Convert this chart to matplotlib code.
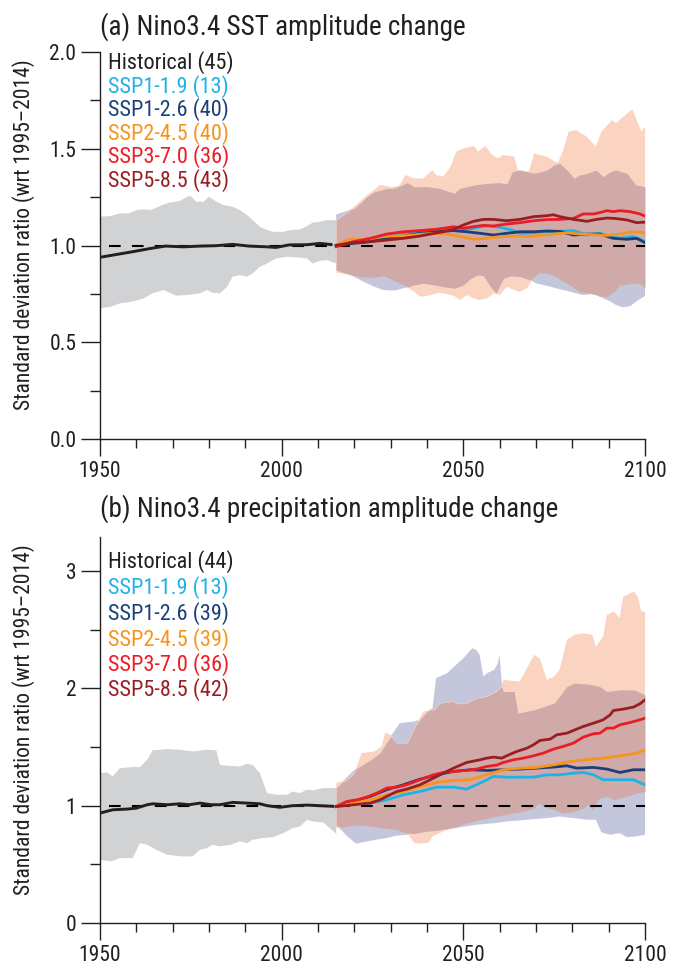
import numpy as np
import matplotlib
matplotlib.use("Agg")
import matplotlib.pyplot as plt
from matplotlib import font_manager as fm
from matplotlib.ticker import MultipleLocator, FixedLocator


def _has(name):
    try:
        fm.findfont(fm.FontProperties(family=name), fallback_to_default=False)
        return True
    except Exception:
        return False


# pick the narrowest installed sans family; size factor compensates for width
_FONT_CHOICES = [('Liberation Sans Narrow', 1.0), ('Roboto Condensed', 1.0), ('Arial Narrow', 1.0),
                 ('DejaVu Sans Condensed', 0.88), ('Liberation Sans', 0.9)]
FONT, FS = 'Liberation Sans', 0.9
for _n, _f in _FONT_CHOICES:
    if _has(_n):
        FONT, FS = _n, _f
        break
plt.rcParams['font.family'] = [FONT, 'DejaVu Sans']

# ---------------- Panel (a) data : Nino3.4 SST ----------------
a_hist_years = [1950, 1959, 1964, 1968, 1973, 1977.5, 1982, 1986.5, 1991, 1996, 1998.5, 2002, 2007, 2010.5, 2014]
a_hist = [0.939, 0.968, 0.985, 0.997, 0.993, 0.997, 0.999, 1.006, 0.997, 0.993, 0.990, 1.003, 1.004, 1.011, 1.004]

a_hist_hi_years = [1950, 1953, 1955.5, 1958, 1960, 1962, 1964, 1966.5, 1969, 1972, 1974, 1975, 1976.5, 1978.5, 1980, 1982,
                   1984, 1986.5, 1988.5, 1990.5, 1992, 1994, 1996, 1997.5, 2000.5, 2002.5, 2005, 2007, 2008.5, 2010.5, 2012.5, 2015]
a_hist_hi = [1.149, 1.152, 1.166, 1.166, 1.183, 1.187, 1.183, 1.204, 1.221, 1.230, 1.252, 1.255, 1.226, 1.226, 1.252, 1.226,
             1.209, 1.200, 1.183, 1.157, 1.131, 1.097, 1.080, 1.071, 1.071, 1.080, 1.083, 1.100, 1.118, 1.123, 1.131, 1.130]
a_hist_lo_years = [1950, 1953, 1955.5, 1959, 1962, 1964.5, 1967.5, 1969.5, 1971, 1974, 1977.5, 1979.5, 1981, 1983, 1985,
                   1986.5, 1988.5, 1990.5, 1992, 1994, 1996, 1998.5, 2001.5, 2004, 2007, 2008.5, 2010.5, 2012.5, 2015]
a_hist_lo = [0.675, 0.684, 0.701, 0.710, 0.727, 0.753, 0.770, 0.753, 0.741, 0.744, 0.753, 0.770, 0.756, 0.753, 0.787,
             0.839, 0.847, 0.839, 0.856, 0.890, 0.907, 0.933, 0.942, 0.939, 0.933, 0.907, 0.921, 0.924, 0.907]

a_peach_hi_years = [2015, 2017, 2020, 2021.5, 2023.5, 2025.5, 2027, 2029, 2031, 2032.5, 2034, 2036.5, 2039, 2041.5, 2042.5,
                    2044.5, 2046.5, 2048, 2050, 2053, 2054, 2056, 2058, 2059.5, 2061, 2064, 2065, 2068, 2069.5, 2073,
                    2076, 2077.5, 2079, 2081, 2084, 2086.5, 2088, 2091, 2092, 2093.5, 2096.5, 2099, 2100]
a_peach_hi = [1.132, 1.158, 1.201, 1.227, 1.261, 1.287, 1.313, 1.307, 1.295, 1.313, 1.364, 1.347, 1.347, 1.390, 1.364,
              1.356, 1.407, 1.485, 1.502, 1.514, 1.485, 1.514, 1.468, 1.450, 1.468, 1.459, 1.390, 1.382, 1.476, 1.459,
              1.425, 1.494, 1.588, 1.597, 1.562, 1.511, 1.588, 1.649, 1.631, 1.657, 1.704, 1.588, 1.614]
a_peach_lo_years = [2015, 2019, 2022.5, 2025.5, 2028, 2031, 2033.5, 2036.5, 2038, 2040, 2042, 2043.5, 2045.5, 2047.5, 2049,
                    2051, 2053, 2054.5, 2056.5, 2058.5, 2060, 2062, 2064, 2065.5, 2067.5, 2069.5, 2071, 2073, 2075, 2076.5,
                    2078.5, 2080.5, 2082, 2084, 2086, 2087.5, 2089.5, 2091.5, 2093, 2095, 2097, 2098.5, 2100]
a_peach_lo = [0.860, 0.848, 0.836, 0.836, 0.843, 0.818, 0.796, 0.761, 0.736, 0.739, 0.749, 0.756, 0.749, 0.739, 0.718,
              0.744, 0.727, 0.718, 0.727, 0.753, 0.744, 0.787, 0.770, 0.761, 0.779, 0.839, 0.860, 0.856, 0.843, 0.825,
              0.805, 0.779, 0.761, 0.756, 0.749, 0.739, 0.736, 0.761, 0.796, 0.801, 0.805, 0.805, 0.779]
a_blue_hi_years = [2015, 2020, 2023.5, 2025.5, 2029, 2032.5, 2034.5, 2036.5, 2040, 2043.5, 2047.5, 2049, 2053, 2056.5, 2060,
                   2062, 2063.5, 2065.5, 2069.5, 2073, 2075, 2076.5, 2078.5, 2080.5, 2082, 2084, 2086.5, 2088.5, 2090.5,
                   2092, 2095, 2097.5, 2100]
a_blue_hi = [1.160, 1.192, 1.252, 1.278, 1.295, 1.307, 1.325, 1.304, 1.304, 1.295, 1.270, 1.295, 1.313, 1.321, 1.325,
             1.318, 1.382, 1.390, 1.373, 1.390, 1.416, 1.425, 1.390, 1.347, 1.364, 1.373, 1.390, 1.356, 1.382,
             1.390, 1.373, 1.313, 1.304]
a_blue_lo_years = [2015, 2019, 2022.5, 2025.5, 2028, 2031, 2033.5, 2036.5, 2039, 2042, 2044.5, 2047.5, 2050, 2052, 2054,
                   2055.5, 2057.5, 2059, 2061, 2063, 2065.5, 2068.5, 2070, 2072, 2074, 2075.5, 2077.5, 2079.5, 2081, 2083,
                   2085, 2086.5, 2088.5, 2090.5, 2092, 2094, 2096, 2097.5, 2100]
a_blue_lo = [0.873, 0.848, 0.813, 0.787, 0.770, 0.767, 0.779, 0.796, 0.805, 0.796, 0.787, 0.779, 0.796, 0.830, 0.848,
             0.843, 0.787, 0.753, 0.830, 0.843, 0.839, 0.822, 0.805, 0.796, 0.787, 0.779, 0.770, 0.761, 0.753, 0.744,
             0.749, 0.744, 0.727, 0.710, 0.693, 0.680, 0.687, 0.710, 0.739]

a_ssp119_years = [2015, 2019.8, 2024.4, 2028.9, 2033.5, 2038.1, 2041.8, 2045.4, 2049.1, 2052.8, 2056.4, 2060.1, 2063.8,
                  2065.6, 2069.3, 2073, 2076.6, 2080.3, 2082.1, 2084, 2087.6, 2090.4, 2093.1, 2096.8, 2098.6, 2100]
a_ssp119 = [1.001, 1.020, 1.025, 1.046, 1.059, 1.071, 1.071, 1.080, 1.077, 1.089, 1.102, 1.094, 1.077,
            1.063, 1.066, 1.073, 1.073, 1.077, 1.066, 1.054, 1.063, 1.046, 1.037, 1.046, 1.032, 1.020]
a_ssp126_years = [2015, 2019.8, 2024.4, 2028.9, 2033.5, 2038.1, 2042.7, 2047.3, 2050.9, 2054.6, 2058.3, 2061.9, 2065.6,
                  2069.3, 2073, 2076.6, 2080.3, 2084, 2087.6, 2091.3, 2095, 2097.7, 2100]
a_ssp126 = [1.001, 1.011, 1.020, 1.037, 1.049, 1.063, 1.071, 1.077, 1.071, 1.063, 1.054, 1.063, 1.071,
            1.071, 1.075, 1.073, 1.054, 1.059, 1.059, 1.037, 1.032, 1.037, 1.015]
a_ssp245_years = [2015, 2018.9, 2022.5, 2026.2, 2029.9, 2034.4, 2038.1, 2041.8, 2045.4, 2049.1, 2052.8, 2056.4, 2060.1,
                  2063.8, 2067.5, 2071.1, 2074.8, 2078.5, 2082.1, 2085.8, 2089.5, 2093.1, 2096.8, 2100]
a_ssp245 = [1.001, 1.034, 1.028, 1.042, 1.049, 1.051, 1.058, 1.063, 1.059, 1.046, 1.032, 1.037, 1.046,
            1.049, 1.046, 1.052, 1.059, 1.066, 1.059, 1.056, 1.052, 1.059, 1.071, 1.066]
a_ssp370_years = [2015, 2019.8, 2024.4, 2028.9, 2033.5, 2038.1, 2042.7, 2047.3, 2050, 2052.8, 2055.5, 2058.3, 2061.9,
                  2065.6, 2069.3, 2073, 2076.6, 2080.3, 2083, 2085.8, 2087.6, 2089.5, 2091.3, 2093.1, 2095.9, 2098.6, 2100]
a_ssp370 = [0.994, 1.020, 1.037, 1.059, 1.071, 1.077, 1.084, 1.097, 1.089, 1.097, 1.104, 1.101, 1.111,
            1.118, 1.128, 1.134, 1.135, 1.140, 1.163, 1.163, 1.170, 1.180, 1.175, 1.180, 1.175, 1.163, 1.152]
a_ssp585_years = [2015, 2019.8, 2024.4, 2028.9, 2033.5, 2038.1, 2040.9, 2044.5, 2047.3, 2050, 2052.8, 2055.5, 2058.3,
                  2061.9, 2065.6, 2069.3, 2073, 2074.8, 2076.6, 2080.3, 2084, 2086.7, 2089.5, 2092.2, 2095, 2097.7, 2100]
a_ssp585 = [1.001, 1.015, 1.020, 1.028, 1.037, 1.049, 1.059, 1.071, 1.084, 1.106, 1.125, 1.135, 1.135,
            1.128, 1.135, 1.149, 1.154, 1.159, 1.149, 1.135, 1.125, 1.135, 1.142, 1.139, 1.132, 1.118, 1.121]

# ---------------- Panel (b) data : Nino3.4 precipitation ----------------
b_hist_years = [1950, 1953.5, 1957.5, 1960, 1963, 1964.5, 1968.5, 1972, 1974.5, 1977.5, 1980.5, 1983, 1986.5, 1990.5,
                1994, 1996, 1999.5, 2003, 2007, 2010.5, 2014.5]
b_hist = [0.937, 0.965, 0.971, 0.979, 1.008, 1.016, 1.008, 1.016, 1.008, 1.022, 1.008, 1.008, 1.028, 1.022,
          1.016, 1.000, 0.986, 1.000, 1.005, 1.000, 0.994]

b_hist_hi_years = [1950, 1952, 1953.5, 1955.5, 1959, 1961, 1963, 1964.5, 1966.5, 1968.5, 1972, 1975.5, 1979.5, 1982,
                   1983, 1985, 1988.5, 1990.5, 1992, 1994, 1996, 1998.5, 2001.5, 2003, 2005, 2007, 2008.5, 2011.5, 2015]
b_hist_hi = [1.278, 1.283, 1.249, 1.320, 1.329, 1.329, 1.392, 1.472, 1.476, 1.482, 1.476, 1.462, 1.476, 1.472,
             1.348, 1.340, 1.334, 1.357, 1.348, 1.278, 1.107, 1.093, 1.093, 1.121, 1.107, 1.136, 1.130, 1.150, 1.150]
b_hist_lo_years = [1950, 1953, 1955.5, 1959, 1961, 1963, 1965.5, 1968.5, 1972, 1975.5, 1977.5, 1979.5, 1981, 1983,
                   1986, 1988.5, 1990.5, 1992, 1995, 1997.5, 2000.5, 2003, 2005, 2007, 2008.5, 2011.5, 2015]
b_hist_lo = [0.539, 0.525, 0.553, 0.553, 0.681, 0.667, 0.624, 0.582, 0.568, 0.568, 0.624, 0.639, 0.667, 0.653,
             0.667, 0.696, 0.681, 0.710, 0.724, 0.732, 0.766, 0.809, 0.823, 0.880, 0.866, 0.857, 0.760]

b_peach_hi_years = [2015, 2018, 2020, 2022, 2025.5, 2027.5, 2028.5, 2030, 2031.5, 2034.5, 2037, 2039, 2042, 2043.5, 2047,
                    2048, 2051, 2053.5, 2056.5, 2059, 2060.5, 2061, 2065.5, 2067.5, 2069.5, 2071, 2073, 2075, 2076.5,
                    2078.5, 2080.5, 2083, 2085.5, 2086.5, 2088.5, 2089.5, 2091.5, 2093, 2094, 2097, 2098, 2099, 2100]
b_peach_hi = [1.192, 1.221, 1.278, 1.448, 1.462, 1.505, 1.624, 1.604, 1.533, 1.533, 1.689, 1.803, 1.817, 1.874, 1.888,
              1.868, 1.874, 1.916, 1.931, 1.973, 2.016, 2.072, 2.058, 2.172, 2.285, 2.257, 2.072, 2.101, 2.158,
              2.413, 2.456, 2.470, 2.456, 2.356, 2.442, 2.626, 2.655, 2.598, 2.782, 2.825, 2.782, 2.655, 2.655]
b_peach_lo_years = [2015, 2018, 2020.5, 2023.5, 2026, 2029, 2031.5, 2034.5, 2036.5, 2038, 2040.5, 2041.5, 2044.5, 2047.5,
                    2050, 2052.5, 2055.5, 2058, 2061, 2063.5, 2066.5, 2069.5, 2070.5, 2072, 2075, 2077.5, 2080.5, 2083,
                    2084, 2085.5, 2087.5, 2089.5, 2091.5, 2093, 2095, 2097, 2098.5, 2100]
b_peach_lo = [0.809, 0.823, 0.837, 0.829, 0.818, 0.806, 0.795, 0.766, 0.681, 0.676, 0.687, 0.738, 0.781, 0.818,
              0.846, 0.866, 0.886, 0.903, 0.923, 0.937, 0.951, 0.979, 1.022, 0.994, 0.965, 0.937, 0.951, 0.979,
              1.008, 0.965, 1.065, 1.079, 1.050, 1.065, 1.079, 1.101, 1.113, 1.121]
b_blue_hi_years = [2015, 2020, 2024.5, 2027, 2030, 2032.5, 2036.5, 2038, 2040, 2041.5, 2042.5, 2045.5, 2048, 2050, 2052.5,
                   2053.5, 2054.5, 2055.5, 2056.5, 2058.5, 2059.5, 2060, 2060.5, 2061, 2064, 2065, 2069.5, 2075, 2078.5,
                   2080.5, 2084, 2087.5, 2089.5, 2093, 2097, 2100]
b_blue_hi = [1.150, 1.306, 1.391, 1.448, 1.590, 1.703, 1.718, 1.732, 1.803, 1.831, 2.087, 2.129, 2.200, 2.257, 2.342,
             2.328, 2.285, 2.101, 2.129, 2.158, 2.214, 2.285, 2.072, 1.973, 1.973, 1.789, 1.817, 1.874, 2.016,
             2.044, 2.038, 2.016, 1.973, 1.987, 1.987, 1.945]
b_blue_lo_years = [2015, 2016.5, 2018, 2020.5, 2023.5, 2026, 2029, 2031.5, 2034.5, 2037, 2039.5, 2042.5, 2045, 2048,
                   2050.5, 2053.5, 2056.5, 2059, 2062, 2065.5, 2069.5, 2073, 2076.5, 2080.5, 2084, 2086.5, 2088, 2090.5,
                   2093, 2095, 2097.5, 2100]
b_blue_lo = [0.830, 0.790, 0.740, 0.676, 0.695, 0.710, 0.724, 0.744, 0.752, 0.766, 0.781, 0.789, 0.801, 0.809,
             0.823, 0.837, 0.846, 0.852, 0.866, 0.874, 0.886, 0.894, 0.908, 0.894, 0.880, 0.880, 0.772, 0.752,
             0.766, 0.732, 0.738, 0.752]

b_ssp119_years = [2015, 2019.8, 2024.4, 2028.9, 2033.5, 2038.1, 2042.7, 2047.3, 2050.9, 2054.6, 2058.3, 2061.9, 2065.6,
                  2069.3, 2073, 2076.6, 2080.3, 2083, 2085.8, 2088.5, 2093.1, 2096.8, 2100]
b_ssp119 = [0.993, 1.022, 1.022, 1.050, 1.093, 1.121, 1.158, 1.158, 1.141, 1.192, 1.249, 1.243, 1.243,
            1.243, 1.263, 1.263, 1.277, 1.283, 1.263, 1.221, 1.221, 1.221, 1.178]
b_ssp126_years = [2015, 2019.8, 2024.4, 2028.9, 2033.5, 2038.1, 2042.7, 2047.3, 2051.9, 2056.4, 2061, 2065.6, 2070.2,
                  2074.8, 2078.5, 2081.2, 2085.8, 2089.5, 2093.1, 2096.8, 2100]
b_ssp126 = [0.993, 1.036, 1.079, 1.136, 1.178, 1.226, 1.263, 1.292, 1.306, 1.300, 1.306, 1.312, 1.320,
            1.329, 1.340, 1.320, 1.326, 1.312, 1.283, 1.306, 1.306]
b_ssp245_years = [2015, 2019.8, 2024.4, 2028.9, 2033.5, 2038.1, 2042.7, 2047.3, 2051.9, 2056.4, 2061, 2065.6, 2070.2,
                  2074.8, 2079.4, 2084, 2088.5, 2093.1, 2097.7, 2100]
b_ssp245 = [0.993, 1.022, 1.050, 1.093, 1.121, 1.164, 1.198, 1.215, 1.221, 1.263, 1.306, 1.320, 1.326,
            1.348, 1.377, 1.391, 1.405, 1.425, 1.448, 1.476]
b_ssp370_years = [2015, 2017.9, 2020.7, 2023.4, 2026.2, 2028.9, 2031.7, 2034.4, 2038.1, 2041.8, 2044.5, 2047.3, 2050.9,
                  2053.7, 2056.4, 2059.2, 2061, 2063.8, 2066.5, 2069.3, 2072, 2074.8, 2077.5, 2080.3, 2083, 2085.8,
                  2087.6, 2089.5, 2091.3, 2093.1, 2095.9, 2098.6, 2100]
b_ssp370 = [0.993, 1.036, 1.050, 1.073, 1.107, 1.150, 1.158, 1.178, 1.221, 1.263, 1.283, 1.292, 1.300,
            1.312, 1.334, 1.346, 1.368, 1.391, 1.405, 1.425, 1.448, 1.482, 1.505, 1.533, 1.584, 1.613,
            1.618, 1.661, 1.661, 1.689, 1.709, 1.732, 1.746]
b_ssp585_years = [2015, 2019.8, 2024.4, 2027.1, 2028.9, 2031.7, 2034.4, 2038.1, 2040.9, 2043.6, 2047.3, 2050.9, 2054.6,
                  2056.4, 2058.3, 2060.6, 2061.9, 2064.7, 2067.5, 2069.3, 2071.1, 2073.9, 2075.7, 2078.5, 2080.3, 2083,
                  2085.8, 2088.5, 2090.4, 2091.3, 2094, 2096.8, 2098.6, 2100]
b_ssp585 = [0.993, 1.008, 1.022, 1.050, 1.079, 1.121, 1.141, 1.178, 1.221, 1.263, 1.320, 1.368, 1.391,
            1.405, 1.414, 1.405, 1.425, 1.462, 1.490, 1.519, 1.556, 1.567, 1.604, 1.618, 1.641, 1.675,
            1.703, 1.732, 1.774, 1.811, 1.823, 1.840, 1.868, 1.902]

# ---------------- labels ----------------
scenario_names = ['SSP1-1.9', 'SSP1-2.6', 'SSP2-4.5', 'SSP3-7.0', 'SSP5-8.5']
a_counts = [45, 13, 40, 40, 36, 43]
b_counts = [44, 13, 39, 39, 36, 42]
titles = ['(a) Nino3.4 SST amplitude change', '(b) Nino3.4 precipitation amplitude change']
ylabel = 'Standard deviation ratio (wrt 1995\u20132014)'
xtick_labels = ['1950', '2000', '2050', '2100']

# ---------------- style ----------------
C_HIST = '#231f20'
C_SSP = ['#1eb3e6', '#1b3f78', '#f7941d', '#ec1c24', '#9a1d22']
C_GRAY = '#d1d2d4'
C_PEACH = '#fad4c1'
C_BLUE = '#c4c7db'
C_MAUVE = '#cfaaa9'

W, H = 674, 968
fig = plt.figure(figsize=(W / 100, H / 100), dpi=100)


def px_axes(left, top, right, bottom):
    return fig.add_axes([left / W, 1 - bottom / H, (right - left) / W, (bottom - top) / H])


def band(ax, yh, vh, yl, vl, color, z):
    xs = np.concatenate([np.asarray(yh, float), np.asarray(yl, float)[::-1]])
    ys = np.concatenate([np.asarray(vh, float), np.asarray(vl, float)[::-1]])
    ax.fill(xs, ys, color=color, lw=0, zorder=z)


def overlap(ax, bands, color, z):
    grid = np.unique(np.concatenate([np.asarray(b[0], float) for b in bands]))
    his = [np.interp(grid, b[0], b[1]) for b in bands if b[2] == 'hi']
    los = [np.interp(grid, b[0], b[1]) for b in bands if b[2] == 'lo']
    hi = np.minimum(*his)
    lo = np.maximum(*los)
    ax.fill_between(grid, lo, hi, where=hi > lo, interpolate=True, color=color, lw=0, zorder=z)


def draw_panel(ax, d, ylim, yticks, yticklabels, yminor, title, counts, title_y, leg_y):
    band(ax, *d['hist_band'], C_GRAY, 1)
    band(ax, *d['blue'], C_BLUE, 1.1)
    band(ax, *d['peach'], C_PEACH, 1.2)
    by, bhi, bly, blo = d['blue']
    py_, phi, ply, plo = d['peach']
    overlap(ax, [(by, bhi, 'hi'), (bly, blo, 'lo'), (py_, phi, 'hi'), (ply, plo, 'lo')], C_MAUVE, 1.3)

    ax.plot([1952.6, 2100], [1.0, 1.0], color='black', lw=1.5, dashes=(5.6, 5.4), zorder=2)
    ax.plot(d['hist'][0], d['hist'][1], color=C_HIST, lw=2.1, zorder=3, solid_capstyle='butt')
    for (yy, vv), c in zip(d['ssp'], C_SSP):
        ax.plot(yy, vv, color=c, lw=2.0, zorder=3, solid_joinstyle='round')

    ax.set_xlim(1950, 2100)
    ax.set_ylim(*ylim)
    ax.xaxis.set_major_locator(FixedLocator([1950, 2000, 2050, 2100]))
    ax.set_xticklabels(xtick_labels)
    ax.xaxis.set_minor_locator(MultipleLocator(10))
    ax.yaxis.set_major_locator(FixedLocator(yticks))
    ax.set_yticklabels(yticklabels)
    ax.yaxis.set_minor_locator(MultipleLocator(yminor))
    for s in ['top', 'right']:
        ax.spines[s].set_visible(False)
    for s in ['left', 'bottom']:
        ax.spines[s].set_linewidth(1.0)
        ax.spines[s].set_color('#231f20')
    ax.tick_params(axis='both', which='both', direction='out', width=1.0, color='#231f20',
                   labelsize=15.5 * FS, labelcolor='#231f20')
    ax.tick_params(axis='y', which='major', length=14, pad=3)
    ax.tick_params(axis='y', which='minor', length=7)
    ax.tick_params(axis='x', which='major', length=12.5, pad=3.5)
    ax.tick_params(axis='x', which='minor', length=6.5)
    ax.set_ylabel(ylabel, fontsize=15.5 * FS, color='#231f20')
    ax.yaxis.set_label_coords(-0.12, 0.527)

    fig.text(100 / W, 1 - title_y / H, title, fontsize=19.5 * FS, color='#231f20', ha='left', va='baseline')
    names = ['Historical'] + scenario_names
    cols = [C_HIST] + C_SSP
    for i, (nm, n, c) in enumerate(zip(names, counts, cols)):
        fig.text(108 / W, 1 - leg_y[i] / H, f'{nm} ({n})', fontsize=16 * FS, color=c, ha='left', va='center')


ax_a = px_axes(100, 52, 645, 439)
ax_b = px_axes(100, 537, 645, 923)

data_a = {
    'hist_band': (a_hist_hi_years, a_hist_hi, a_hist_lo_years, a_hist_lo),
    'blue': (a_blue_hi_years, a_blue_hi, a_blue_lo_years, a_blue_lo),
    'peach': (a_peach_hi_years, a_peach_hi, a_peach_lo_years, a_peach_lo),
    'hist': (a_hist_years, a_hist),
    'ssp': [(a_ssp119_years, a_ssp119), (a_ssp126_years, a_ssp126), (a_ssp245_years, a_ssp245),
            (a_ssp370_years, a_ssp370), (a_ssp585_years, a_ssp585)],
}
data_b = {
    'hist_band': (b_hist_hi_years, b_hist_hi, b_hist_lo_years, b_hist_lo),
    'blue': (b_blue_hi_years, b_blue_hi, b_blue_lo_years, b_blue_lo),
    'peach': (b_peach_hi_years, b_peach_hi, b_peach_lo_years, b_peach_lo),
    'hist': (b_hist_years, b_hist),
    'ssp': [(b_ssp119_years, b_ssp119), (b_ssp126_years, b_ssp126), (b_ssp245_years, b_ssp245),
            (b_ssp370_years, b_ssp370), (b_ssp585_years, b_ssp585)],
}

draw_panel(ax_a, data_a, (0, 2.0), [0, 0.5, 1.0, 1.5, 2.0], ['0.0', '0.5', '1.0', '1.5', '2.0'], 0.25,
           titles[0], a_counts, 35, [63, 87, 110, 134, 157, 181])
draw_panel(ax_b, data_b, (0, 3.29), [0, 1, 2, 3], ['0', '1', '2', '3'], 0.5,
           titles[1], b_counts, 517, [562, 588, 614, 640, 665, 690])

fig.savefig('out.png', dpi=100)
